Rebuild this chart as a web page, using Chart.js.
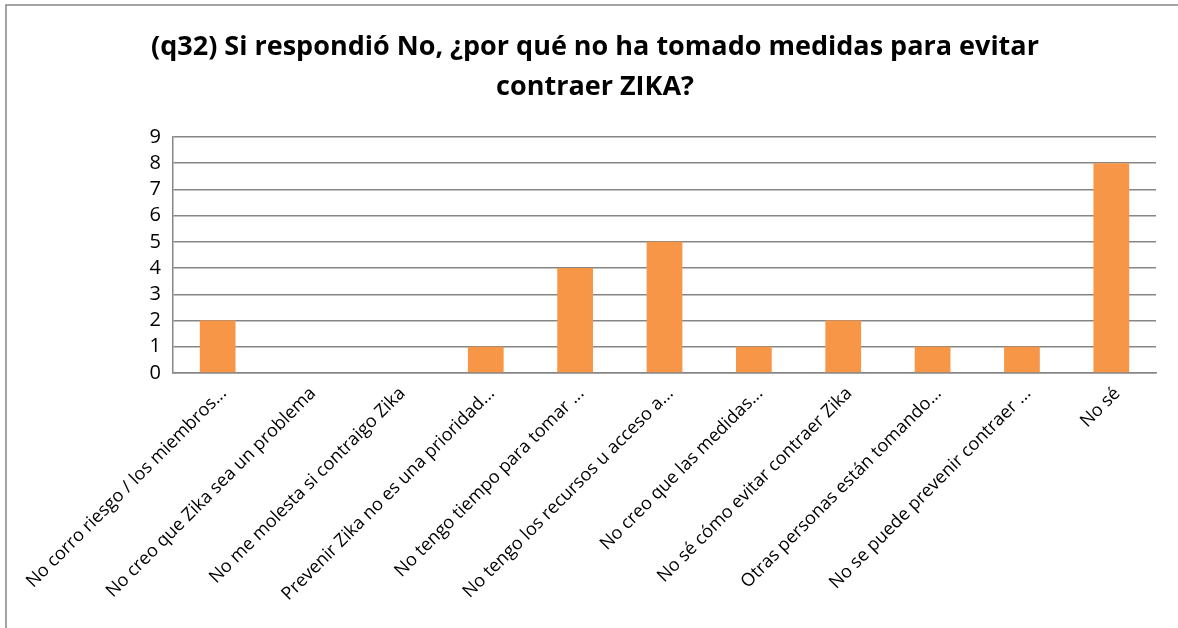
<!DOCTYPE html>
<head>
    <title>q32</title>
    <meta charset="utf-8">
    <script src="https://cdn.jsdelivr.net/npm/chart.js"></script>
    <style>
        body { margin: 0; background: #fff; }
    </style>
</head>
<body>
    <canvas id="myChart" width="1178" height="628"></canvas>
    <script>
        const titleLines = ['(q32) Si respondió No, ¿por qué no ha tomado medidas para evitar', 'contraer ZIKA?'];
        const categories = [
            'No corro riesgo / los miembros...',
            'No creo que Zika sea un problema',
            'No me molesta si contraigo Zika',
            'Prevenir Zika no es una prioridad...',
            'No tengo tiempo para tomar ...',
            'No tengo los recursos u acceso a...',
            'No creo que las medidas...',
            'No sé cómo evitar contraer Zika',
            'Otras personas están tomando...',
            'No se puede prevenir contraer ...',
            'No sé'
        ];
        const counts = [2, 0, 0, 1, 4, 5, 1, 2, 1, 1, 8];
        const yTicks = [0, 1, 2, 3, 4, 5, 6, 7, 8, 9];

        // white page + the outer frame of the chart object
        const frame = {
            id: 'frame',
            beforeDraw(chart) {
                const c = chart.ctx;
                c.save();
                c.fillStyle = '#fff';
                c.fillRect(0, 0, chart.width, chart.height);
                c.strokeStyle = '#868686';
                c.lineWidth = 1.5;
                c.strokeRect(6, 5, chart.width + 10, chart.height + 10);
                c.restore();
            }
        };

        const ctx = document.getElementById('myChart');
        Chart.defaults.font.family = '"Open Sans", sans-serif';
        Chart.defaults.color = '#000';
        new Chart(ctx, {
            type: 'bar',
            data: {
                labels: categories,
                datasets: [{
                    data: counts,
                    backgroundColor: '#F79646',
                    borderWidth: 0,
                    categoryPercentage: 1,
                    barPercentage: 0.4
                }]
            },
            options: {
                responsive: false,
                animation: false,
                layout: { padding: { left: 34, right: 22, top: 0, bottom: 0 } },
                plugins: {
                    legend: { display: false },
                    tooltip: { enabled: false },
                    title: {
                        display: true,
                        text: titleLines,
                        color: '#000',
                        font: { size: 27, weight: 'bold', lineHeight: 1.48 },
                        padding: { top: 27, bottom: 30 }
                    }
                },
                scales: {
                    x: {
                        grid: { display: false, drawTicks: false },
                        border: { color: '#868686', width: 1.5 },
                        ticks: {
                            autoSkip: false,
                            minRotation: 45,
                            maxRotation: 45,
                            padding: 10,
                            labelOffset: 6,
                            font: { size: 18 }
                        },
                        afterFit(scale) {
                            scale.height = 255;
                            scale.paddingLeft = 0;
                            scale.paddingRight = 0;
                        }
                    },
                    y: {
                        min: 0,
                        max: 9,
                        grid: { color: '#868686', lineWidth: 1.5, drawTicks: false },
                        border: { color: '#868686', width: 1.5 },
                        ticks: {
                            autoSkip: false,
                            stepSize: 1,
                            padding: 12,
                            font: { size: 20 },
                            callback: (v) => yTicks.includes(v) ? String(v) : ''
                        },
                        afterFit(scale) {
                            scale.width = 139;
                        }
                    }
                }
            },
            plugins: [frame]
        });
    </script>
</body>
</html>
